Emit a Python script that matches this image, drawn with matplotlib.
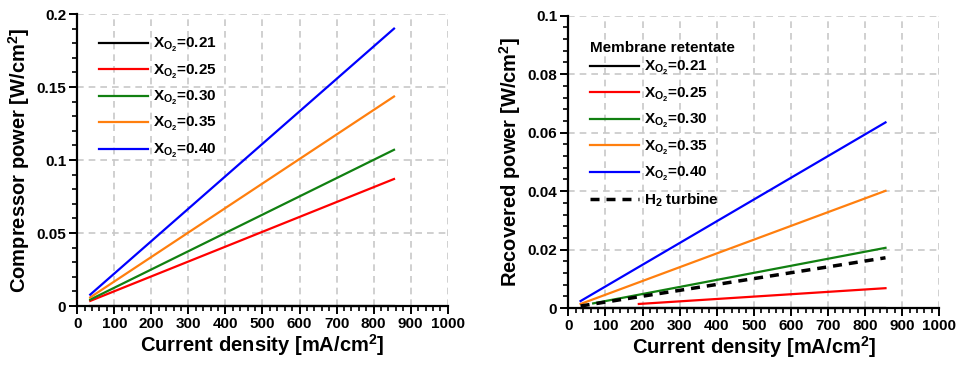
import matplotlib
matplotlib.use("Agg")
import matplotlib.pyplot as plt
from matplotlib.ticker import MultipleLocator, FuncFormatter

plt.rcParams['font.family'] = ['Liberation Sans', 'DejaVu Sans']
plt.rcParams['font.weight'] = 'bold'
plt.rcParams['mathtext.fontset'] = 'custom'
plt.rcParams['mathtext.rm'] = 'Liberation Sans:bold'
plt.rcParams['mathtext.bf'] = 'Liberation Sans:bold'
plt.rcParams['mathtext.it'] = 'Liberation Sans:bold'

labels = ['0.21', '0.25', '0.30', '0.35', '0.40']
colors = ['black', '#ff0000', '#118011', '#ff7f0e', '#0000ff']

# Compressor power (left)
comp_x = [35, 855]
comp_y = {
    '0.21': [0.0, 0.0],
    '0.25': [0.0035, 0.087],
    '0.30': [0.0044, 0.107],
    '0.35': [0.0059, 0.1435],
    '0.40': [0.0078, 0.190],
}

# Recovered power (right)
rec_x = {
    '0.21': [33, 855],
    '0.25': [190, 855],
    '0.30': [67, 855],
    '0.35': [33, 855],
    '0.40': [33, 855],
}
rec_y = {
    '0.21': [0.0, 0.0],
    '0.25': [0.0014, 0.0068],
    '0.30': [0.0016, 0.0206],
    '0.35': [0.0014, 0.0401],
    '0.40': [0.0024, 0.0635],
}
h2_x = [33, 855]
h2_y = [0.0007, 0.0172]

fig = plt.figure(figsize=(9.61, 3.65), dpi=100)
ax1 = fig.add_axes([0.0804, 0.1616, 0.3855, 0.80])
ax2 = fig.add_axes([0.5914, 0.156, 0.386, 0.801])

def fmt(v, pos):
    if abs(v) < 1e-12:
        return '0'
    s = ('%.3f' % v).rstrip('0').rstrip('.')
    return s

def style(ax, ymax, ymaj, ymin):
    ax.set_xlim(0, 1000)
    ax.set_ylim(0, ymax)
    ax.xaxis.set_major_locator(MultipleLocator(100))
    ax.xaxis.set_minor_locator(MultipleLocator(20))
    ax.yaxis.set_major_locator(MultipleLocator(ymaj))
    ax.yaxis.set_minor_locator(MultipleLocator(ymin))
    ax.yaxis.set_major_formatter(FuncFormatter(fmt))
    ax.grid(True, which='major', color='#c8c8c8', linestyle=(0, (4, 3)), linewidth=1.2)
    ax.set_axisbelow(True)
    for s in ['top', 'right']:
        ax.spines[s].set_visible(False)
    for s in ['left', 'bottom']:
        ax.spines[s].set_linewidth(1.6)
    ax.tick_params(which='major', direction='out', length=6, width=1.4, labelsize=11, pad=2)
    ax.tick_params(which='minor', direction='out', length=3.5, width=1.2)
    for lab in ax.get_xticklabels() + ax.get_yticklabels():
        lab.set_fontweight('bold')
    ax.set_xlabel('Current density [mA/cm$^2$]', fontsize=14.5, fontweight='bold', labelpad=1)

for lab, c in zip(labels, colors):
    ax1.plot(comp_x, comp_y[lab], color=c, lw=1.6, label=r'X$_{\rm O_2}$=' + lab, clip_on=False, zorder=3)
style(ax1, 0.2, 0.05, 0.01)
ax1.set_ylabel('Compressor power [W/cm$^2$]', fontsize=14.5, fontweight='bold', labelpad=3)
leg1 = ax1.legend(loc='upper left', bbox_to_anchor=(0.022, 0.972), frameon=False, fontsize=11,
                  handlelength=3.2, handletextpad=0.3, labelspacing=0.55)

for lab, c in zip(labels, colors):
    ax2.plot(rec_x[lab], rec_y[lab], color=c, lw=1.6, label=r'X$_{\rm O_2}$=' + lab, clip_on=False, zorder=3)
ax2.plot(h2_x, h2_y, color='black', lw=2.5, linestyle=(0, (2.6, 2.0)), label='H$_2$ turbine', zorder=3)
style(ax2, 0.1, 0.02, 0.004)
ax2.set_ylabel('Recovered power [W/cm$^2$]', fontsize=14.5, fontweight='bold', labelpad=3)
leg2 = ax2.legend(loc='upper left', bbox_to_anchor=(0.022, 0.96), frameon=False, fontsize=11,
                  handlelength=3.2, handletextpad=0.3, labelspacing=0.55,
                  title='Membrane retentate', title_fontproperties={'weight': 'bold', 'size': 11})
leg2._legend_box.align = 'left'
leg2._legend_box.sep = 3

fig.savefig('out.png', dpi=100)
